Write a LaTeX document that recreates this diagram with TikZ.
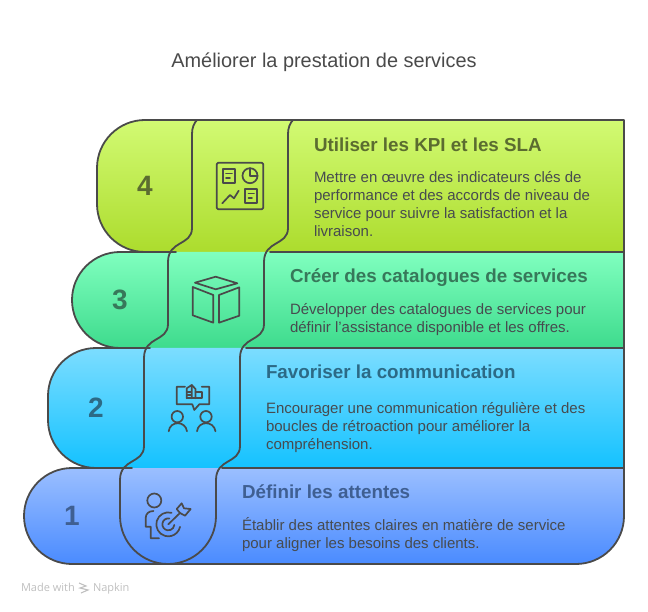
\documentclass[tikz,border=0pt]{standalone}
\usepackage{fontspec}
\setmainfont{Liberation Sans}
\newfontfamily\footfont{Open Sans}
\definecolor{ink}{HTML}{4A4A4A}
\definecolor{bodyink}{HTML}{474B4F}
\definecolor{ca}{HTML}{5B6C30}\definecolor{cb}{HTML}{37785A}\definecolor{cc}{HTML}{2C6A86}\definecolor{cd}{HTML}{3F5F92}
\definecolor{fat}{RGB}{210,250,115}\definecolor{fab}{RGB}{172,220,45}
\definecolor{fbt}{RGB}{128,255,191}\definecolor{fbb}{RGB}{62,219,141}
\definecolor{fct}{RGB}{124,221,255}\definecolor{fcb}{RGB}{20,194,255}
\definecolor{fdt}{RGB}{155,191,255}\definecolor{fdb}{RGB}{74,139,255}
\tikzset{
  every node/.style={inner sep=0pt,outer sep=0pt},
  outline/.style={draw=ink,line width=1.8pt,line cap=round,line join=round},
  iconline/.style={draw=ink,line width=1.7pt,line cap=round,line join=round},
  titletext/.style={anchor=base,text=ink,font=\fontsize{19.9}{22}\selectfont},
  headtext/.style={anchor=base west,font=\fontsize{18.8}{22}\selectfont\bfseries},
  bodytext/.style={anchor=base west,text=bodyink,font=\fontsize{15}{18}\selectfont},
  numtext/.style={anchor=center,font=\fontsize{28}{30}\selectfont\bfseries},
  foot/.style={anchor=base west,text=black!25,font=\footfont\fontsize{11}{12}\selectfont},
}
\begin{document}
\begin{tikzpicture}[x=1pt,y=-1pt]
\useasboundingbox (0,0) rectangle (648,612);
% fills
\shade[top color=fat,bottom color=fab]
  (145,120) -- (624,120) -- (624,252) -- (145,252) arc[start angle=90,end angle=180,radius=48] -- (97,168) arc[start angle=180,end angle=270,radius=48] -- cycle;
\shade[top color=fbt,bottom color=fbb]
  (120,252) -- (624,252) -- (624,348) -- (120,348) arc[start angle=90,end angle=270,radius=48] -- cycle;
\shade[top color=fct,bottom color=fcb]
  (96,348) -- (624,348) -- (624,468) -- (96,468) arc[start angle=90,end angle=180,radius=48] -- (48,396) arc[start angle=180,end angle=270,radius=48] -- cycle;
\shade[top color=fdt,bottom color=fdb]
  (72,468) -- (624,468) -- (624,516) arc[start angle=0,end angle=90,radius=48] -- (72,564) arc[start angle=90,end angle=270,radius=48] -- cycle;
% outer contour pieces
\path[outline]
  (172,252) -- (120,252) arc[start angle=270,end angle=90,radius=48] -- (150,348)
  (624,120) -- (145,120) arc[start angle=270,end angle=180,radius=48] -- (97,204) arc[start angle=180,end angle=90,radius=48] -- (176,252)
  (150,348) -- (96,348) arc[start angle=270,end angle=180,radius=48] -- (48,420) arc[start angle=180,end angle=90,radius=48] -- (132,468)
  (132,468) -- (72,468) arc[start angle=270,end angle=90,radius=48] -- (576,564) arc[start angle=90,end angle=0,radius=48] -- (624,120);
\path[outline] (270,252) -- (624,252) (246,348) -- (624,348) (222,468) -- (624,468);
% dividers
\path[outline]
  (197,120) .. controls (194,123) and (192,128) .. (192,134) -- (192,228)
  .. controls (192,246) and (168,240) .. (168,262) -- (168,324)
  .. controls (168,342) and (144,336) .. (144,358) -- (144,446)
  .. controls (144,464) and (120,458) .. (120,480) -- (120,516)
  arc[start angle=180,end angle=0,radius=48] -- (216,480)
  .. controls (216,458) and (240,464) .. (240,446) -- (240,358)
  .. controls (240,336) and (264,342) .. (264,324) -- (264,262)
  .. controls (264,240) and (288,246) .. (288,228) -- (288,134)
  .. controls (288,128) and (290,123) .. (293,120);
% numbers
\node[numtext,text=ca] (n4) at (145,186) {4};
\node[numtext,text=cb] (n3) at (120,300) {3};
\node[numtext,text=cc] (n2) at (96,408) {2};
\node[numtext,text=cd] (n1) at (72,516) {1};
% title
\node[titletext] (title) at (324,68) {Améliorer la prestation de services};
% layer 4 text
\node[headtext,text=ca] (h4) at (314,152) {Utiliser les KPI et les SLA};
\node[bodytext] (b4a) at (314,183) {Mettre en œuvre des indicateurs clés de};
\node[bodytext] (b4b) at (314,201) {performance et des accords de niveau de};
\node[bodytext] (b4c) at (314,219) {service pour suivre la satisfaction et la};
\node[bodytext] (b4d) at (314,237) {livraison.};
% layer 3 text
\node[headtext,text=cb] (h3) at (290,283) {Créer des catalogues de services};
\node[bodytext] (b3a) at (290,315) {Développer des catalogues de services pour};
\node[bodytext] (b3b) at (290,333) {définir l'assistance disponible et les offres.};
% layer 2 text
\node[headtext,text=cc] (h2) at (266,378) {Favoriser la communication};
\node[bodytext] (b2a) at (266,413) {Encourager une communication régulière et des};
\node[bodytext] (b2b) at (266,431) {boucles de rétroaction pour améliorer la};
\node[bodytext] (b2c) at (266,449) {compréhension.};
% layer 1 text
\node[headtext,text=cd] (h1) at (242,498) {Définir les attentes};
\node[bodytext] (b1a) at (242,530) {Établir des attentes claires en matière de service};
\node[bodytext] (b1b) at (242,548) {pour aligner les besoins des clients.};
% icon 4
\draw[iconline,rounded corners=1.5pt] (216.7,162.7) rectangle (263.3,209.3);
\draw[iconline] (222.7,169) rectangle (235.3,183);
\draw[iconline] (226,173.5) -- (232,173.5) (226,178) -- (230,178);
\draw[iconline] (250,175.7) circle[radius=7.5];
\draw[iconline] (250,168.2) -- (250,175.7) -- (257.5,175.7);
\draw[iconline] (222.3,203.3) -- (230,195) -- (234,198.3) -- (238.7,190.7);
\draw[iconline] (245,188.7) rectangle (257.3,203.3);
\draw[iconline] (248.5,193.5) -- (254,193.5) (248.5,198) -- (252,198);
% icon 3
\draw[iconline] (195,282.7) -- (215.7,276.7) -- (237.3,283.3) -- (215.7,289.3) -- cycle;
\draw[iconline] (192.7,287) -- (213.3,295) -- (213.3,322.7) -- (192.7,315.3) -- cycle;
\draw[iconline] (219,295) -- (239.3,287.3) -- (239.3,315.7) -- (219,322.7) -- cycle;
% icon 2
\draw[iconline] (185,386.7) -- (176.7,386.7) -- (176.7,404.3) -- (192.3,404.3) -- (194.3,410) -- (199.3,404.3) -- (209.3,404.3) -- (209.3,386.7) -- (201.7,386.7);
\draw[iconline] (186.7,398.3) -- (186.7,388.3) -- (191.7,385) -- (191.7,398.3);
\draw[iconline] (191.7,385) -- (195.5,389) -- (195.5,398.3);
\draw[iconline] (195.5,391.7) -- (202.3,391.7) -- (202.3,398.3) -- (186.7,398.3);
\draw[iconline] (186.7,391.7) -- (191,391.7) (186.7,395) -- (191,395);
\draw[iconline] (177.3,416.7) circle[radius=5.7];
\draw[iconline] (168.7,431.3) .. controls (170,420.5) and (185.5,420.5) .. (187,431.3);
\draw[iconline] (206,416.7) circle[radius=5.7];
\draw[iconline] (197,431.3) .. controls (198.3,420.5) and (213.8,420.5) .. (215.5,431.3);
% icon 1
\draw[iconline] (154.3,500.5) circle[radius=7];
\draw[iconline] (153.5,511) .. controls (148.5,511) and (145.7,514) .. (145.7,518) -- (145.7,526.7) -- (150.7,526.7) -- (150.7,538.3) -- (159,538.3);
\draw[iconline] (171.6,512.8) arc[start angle=286,end angle=12,radius=12];
\draw[iconline] (169.3,518.4) arc[start angle=279,end angle=6,radius=6];
\draw[iconline] (168.3,524.3) -- (180,513);
\draw[iconline] (176.7,509) -- (181.7,503.3) -- (184,508.3) -- (190.7,509) -- (185,515.7) -- (180,513) -- cycle;
% footer
\node[foot] (f1) at (21,591) {Made with};
\draw[black!25,line width=1.1pt] (79,583) -- (86,586) -- (80,588) -- (88,590) -- (81,593);
\node[foot] (f2) at (93,591) {Napkin};
\end{tikzpicture}
\end{document}
